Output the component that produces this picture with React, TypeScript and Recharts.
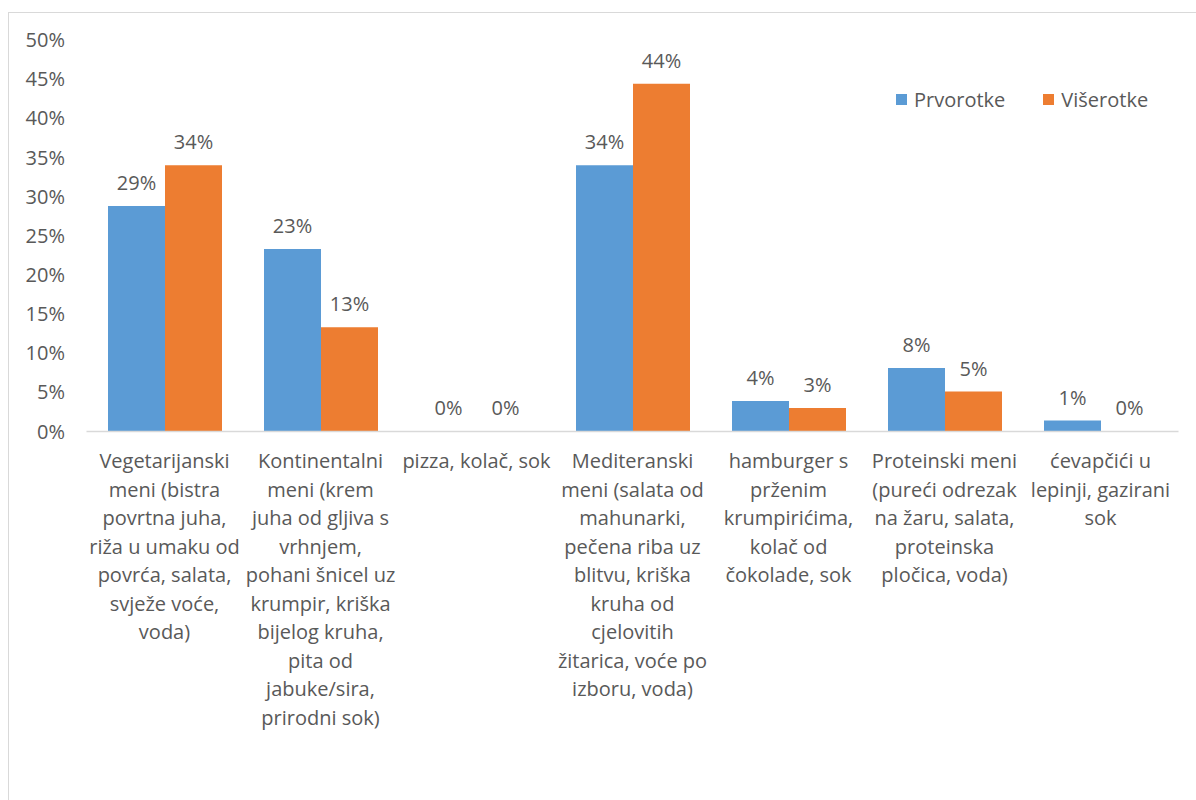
import React from 'react';
import { BarChart, Bar, XAxis, YAxis, Legend, LabelList } from 'recharts';

const categories: string[] = [
  'Vegetarijanski\nmeni (bistra\npovrtna juha,\nriža u umaku od\npovrća, salata,\nsvježe voće,\nvoda)',
  'Kontinentalni\nmeni (krem\njuha od gljiva s\nvrhnjem,\npohani šnicel uz\nkrumpir, kriška\nbijelog kruha,\npita od\njabuke/sira,\nprirodni sok)',
  'pizza, kolač, sok',
  'Mediteranski\nmeni (salata od\nmahunarki,\npečena riba uz\nblitvu, kriška\nkruha od\ncjelovitih\nžitarica, voće po\nizboru, voda)',
  'hamburger s\nprženim\nkrumpirićima,\nkolač od\nčokolade, sok',
  'Proteinski meni\n(pureći odrezak\nna žaru, salata,\nproteinska\npločica, voda)',
  'ćevapčići u\nlepinji, gazirani\nsok',
];

const prvorotke: number[] = [28.8, 23.3, 0, 34.0, 3.9, 8.1, 1.4];
const viserotke: number[] = [34.0, 13.3, 0, 44.4, 3.0, 5.1, 0];

const yTicks: number[] = [0, 5, 10, 15, 20, 25, 30, 35, 40, 45, 50];

const seriesNames = { a: 'Prvorotke', b: 'Višerotke' };
const colors = { a: '#5B9BD5', b: '#ED7D31' };

const data = categories.map((c, i) => ({
  name: c,
  a: prvorotke[i],
  b: viserotke[i],
}));

const FONT = '"Open Sans", sans-serif';
const TEXT = '#595959';

const CatTick = (props: any) => {
  const { x, y, payload } = props;
  const lines = String(payload.value).split('\n');
  return (
    <text x={x} y={y} textAnchor="middle" fill={TEXT} fontSize={20} fontFamily={FONT}>
      {lines.map((l, i) => (
        <tspan key={i} x={x} dy={i === 0 ? 36.5 : 28.5}>
          {l}
        </tspan>
      ))}
    </text>
  );
};

const LegendContent = (props: any) => {
  const { payload } = props;
  return (
    <div style={{ display: 'flex', alignItems: 'center', fontFamily: FONT, fontSize: 20, color: TEXT, whiteSpace: 'nowrap' }}>
      {(payload || []).map((p: any, i: number) => (
        <div key={i} style={{ display: 'flex', alignItems: 'center', marginRight: i === 0 ? 38 : 0 }}>
          <span style={{ display: 'inline-block', width: 11, height: 11, background: p.color, marginRight: 7 }} />
          <span>{p.value}</span>
        </div>
      ))}
    </div>
  );
};

const fmt = (v: any) => `${Math.round(Number(v))}%`;
const minSize = (v: any) => (Number(v) === 0 ? 0.001 : 0);

export default function App() {
  return (
    <div
      style={{
        position: 'absolute',
        left: 0,
        top: 0,
        width: 1196,
        height: 800,
        overflow: 'hidden',
        background: '#fff',
        fontFamily: FONT,
      }}
    >
      <div
        style={{
          position: 'absolute',
          left: 8,
          top: 12,
          width: 1300,
          height: 900,
          borderLeft: '1px solid #d9d9d9',
          borderTop: '1px solid #d9d9d9',
        }}
      />
      <div style={{ position: 'absolute', left: 0, top: 0 }}>
        <BarChart
          width={1196}
          height={800}
          data={data}
          margin={{ top: 40, right: 17.5, bottom: 0, left: 0 }}
          barCategoryGap={21.5}
          barGap={0}
        >
          <XAxis
            dataKey="name"
            interval={0}
            tick={<CatTick />}
            tickLine={false}
            tickSize={0}
            tickMargin={0}
            height={368.5}
            axisLine={{ stroke: '#d9d9d9', strokeWidth: 1.5 }}
          />
          <YAxis
            domain={[0, 50]}
            ticks={yTicks}
            interval={0}
            width={86.5}
            axisLine={false}
            tickLine={false}
            tickSize={0}
            tickMargin={21.5}
            tickFormatter={(v: number) => `${v}%`}
            tick={{ fill: TEXT, fontSize: 20, fontFamily: FONT }}
          />
          <Legend
            layout="horizontal"
            verticalAlign="middle"
            align="center"
            content={<LegendContent />}
            wrapperStyle={{ position: 'absolute', left: 896, top: 86, width: 'auto', height: 'auto' }}
          />
          <Bar dataKey="a" name={seriesNames.a} fill={colors.a} minPointSize={minSize} isAnimationActive={false}>
            <LabelList dataKey="a" position="top" offset={16} formatter={fmt} fill={TEXT} fontSize={20} fontFamily={FONT} />
          </Bar>
          <Bar dataKey="b" name={seriesNames.b} fill={colors.b} minPointSize={minSize} isAnimationActive={false}>
            <LabelList dataKey="b" position="top" offset={16} formatter={fmt} fill={TEXT} fontSize={20} fontFamily={FONT} />
          </Bar>
        </BarChart>
      </div>
    </div>
  );
}
